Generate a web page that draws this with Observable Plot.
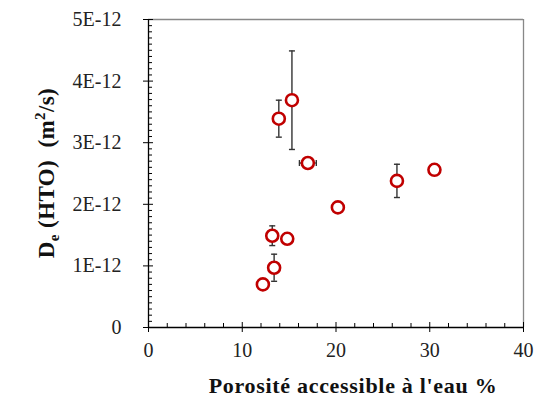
<!DOCTYPE html>
<html><head><meta charset="utf-8">
<script src="https://cdn.jsdelivr.net/npm/d3@7"></script>
<script src="https://cdn.jsdelivr.net/npm/@observablehq/plot@0.6"></script>
<style>body{margin:0;background:#fff} #chart{width:535px;height:401px}</style>
</head><body><div id="chart"></div>
<script>
// Data
const porosity = [15.3, 13.9, 17.0, 20.2, 26.5, 30.5, 13.2, 14.8, 13.4, 12.2];
const de       = [3.69e-12, 3.39e-12, 2.67e-12, 1.95e-12, 2.38e-12, 2.56e-12, 1.49e-12, 1.44e-12, 0.97e-12, 0.70e-12];
const errDe    = [0.80e-12, 0.30e-12, 0, 0, 0.27e-12, 0, 0.16e-12, 0, 0.22e-12, 0];
const errPor   = [0, 0, 0.9, 0, 0, 0, 0, 0, 0, 0];
const xTicks = [0, 10, 20, 30, 40];
const xMinor = [2, 4, 6, 8, 12, 14, 16, 18, 22, 24, 26, 28, 32, 34, 36, 38];
const yTicks = [0, 1e-12, 2e-12, 3e-12, 4e-12, 5e-12];
const yTickLabels = ["0", "1E-12", "2E-12", "3E-12", "4E-12", "5E-12"];
const yMinor = d3.range(0, 51).filter(i => i % 10 !== 0).map(i => i * 1e-13);
const xTitle = "Porosité accessible à l'eau %";

const rows = porosity.map((p, i) => ({p, d: de[i], ed: errDe[i], ep: errPor[i]}));
const rowsY = rows.filter(r => r.ed > 0);
const rowsX = rows.filter(r => r.ep > 0);

const capH = {draw(ctx, size) { const w = Math.sqrt(size / Math.PI); ctx.moveTo(-w, 0); ctx.lineTo(w, 0); }};
const capV = {draw(ctx, size) { const w = Math.sqrt(size / Math.PI); ctx.moveTo(0, -w); ctx.lineTo(0, w); }};
const errColor = "#333";
const gray = "#888";
const FONT = "'Liberation Serif','DejaVu Serif',serif";

const plot = Plot.plot({
  width: 535, height: 401,
  marginLeft: 148, marginRight: 12, marginTop: 19, marginBottom: 74,
  x: {domain: [0, 40]},
  y: {domain: [0, 5e-12]},
  style: {fontFamily: FONT, fontSize: "20px", color: "#000", background: "white"},
  marks: [
    Plot.ruleY([5e-12], {stroke: gray, strokeWidth: 1.3}),
    Plot.ruleX([40], {stroke: gray, strokeWidth: 1.3}),
    // y axis ticks
    Plot.axisY({ticks: yTicks, tickSize: 10, dx: 5, fill: "none", label: null, stroke: "#000"}),
    Plot.axisY({ticks: yMinor, tickSize: 4, dx: 4, fill: "none", label: null, stroke: "#000"}),
    Plot.axisY({ticks: yTicks, tickFormat: d => yTickLabels[yTicks.indexOf(d)], stroke: "none", tickSize: 6, tickPadding: 21, label: null, fill: "#222", fontSize: 20}),
    // x axis ticks
    Plot.axisX({ticks: xTicks, tickSize: 10, dy: -5, fill: "none", label: null, stroke: "#000"}),
    Plot.axisX({ticks: xMinor, tickSize: 4, dy: -4, fill: "none", label: null, stroke: "#000"}),
    Plot.axisX({ticks: xTicks, tickFormat: d => String(d), stroke: "none", tickSize: 6, tickPadding: 9, label: null, fill: "#222", fontSize: 20}),
    Plot.ruleX([0], {stroke: "#000", strokeWidth: 1.3}),
    Plot.ruleY([0], {stroke: "#000", strokeWidth: 1.3}),
    // error bars
    Plot.ruleX(rowsY, {x: "p", y1: r => r.d - r.ed, y2: r => r.d + r.ed, stroke: errColor, strokeWidth: 1.4}),
    Plot.dot(rowsY, {x: "p", y: r => r.d - r.ed, symbol: capH, r: 3, stroke: errColor, strokeWidth: 1.4, fill: "none"}),
    Plot.dot(rowsY, {x: "p", y: r => r.d + r.ed, symbol: capH, r: 3, stroke: errColor, strokeWidth: 1.4, fill: "none"}),
    Plot.ruleY(rowsX, {y: "d", x1: r => r.p - r.ep, x2: r => r.p + r.ep, stroke: errColor, strokeWidth: 1.4}),
    Plot.dot(rowsX, {x: r => r.p - r.ep, y: "d", symbol: capV, r: 3, stroke: errColor, strokeWidth: 1.4, fill: "none"}),
    Plot.dot(rowsX, {x: r => r.p + r.ep, y: "d", symbol: capV, r: 3, stroke: errColor, strokeWidth: 1.4, fill: "none"}),
    // points
    Plot.dot(rows, {x: "p", y: "d", r: 6, stroke: "#C00000", strokeWidth: 2.6, fill: "white"})
  ]
});
document.getElementById("chart").appendChild(plot);

const svg = d3.select(plot);
// x title
svg.append("text")
  .attr("x", 353).attr("y", 393)
  .attr("text-anchor", "middle")
  .attr("font-weight", "bold").attr("font-size", 22)
  .attr("letter-spacing", 0.7)
  .attr("fill", "#111")
  .text(xTitle);
// y title with subscript
const yt = svg.append("text")
  .attr("transform", "translate(54,173) rotate(-90)")
  .attr("text-anchor", "middle")
  .attr("font-weight", "bold").attr("font-size", 23)
  .attr("letter-spacing", 0.4)
  .attr("fill", "#111");
yt.append("tspan").text("D");
yt.append("tspan").attr("font-size", 15).attr("dy", 5).text("e");
yt.append("tspan").attr("dy", -5).text(" (HTO)  (m");
yt.append("tspan").attr("font-size", 15).attr("dy", -9).text("2");
yt.append("tspan").attr("dy", 9).text("/s)");
</script>
</body></html>
